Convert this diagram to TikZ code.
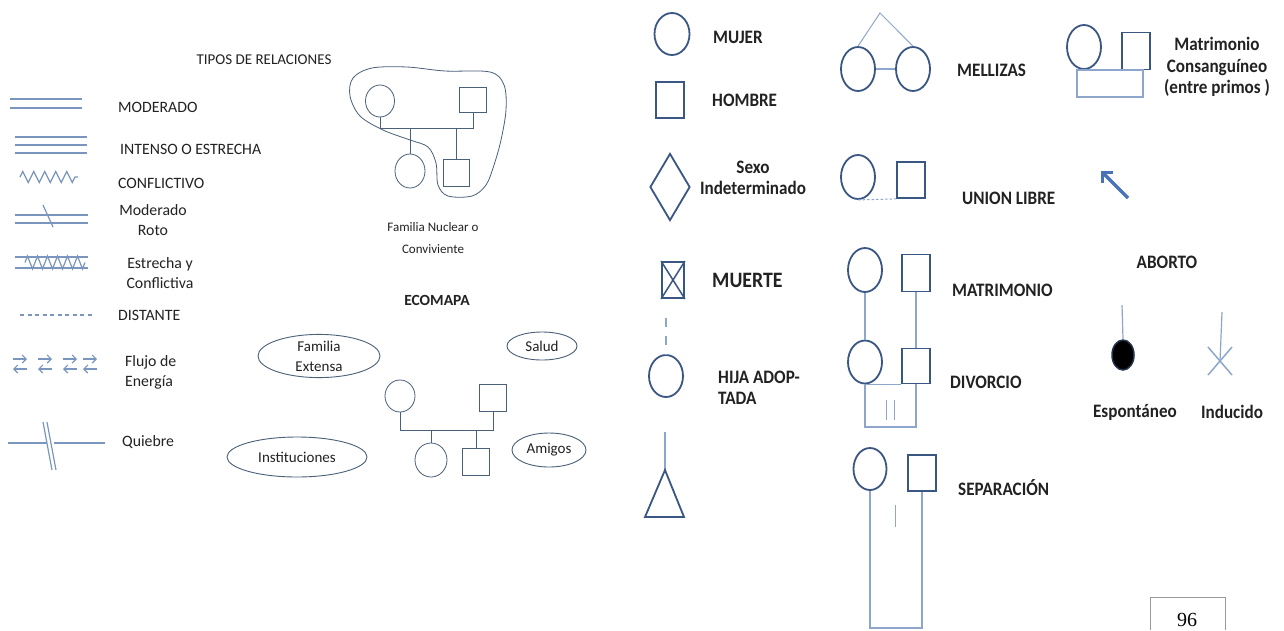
\documentclass[tikz,border=0pt]{standalone}
\usepackage{fontspec}
\setmainfont{Carlito}
\newfontfamily\rfont{Carlito}[FakeStretch=0.9]
\newfontfamily\serf{Liberation Serif}
\usetikzlibrary{shapes.geometric,arrows.meta,decorations.pathmorphing}
\definecolor{leg}{HTML}{7A96BE}
\definecolor{fam}{HTML}{4A5F78}
\definecolor{shp}{HTML}{3A5683}
\definecolor{lnk}{HTML}{8EA6CC}
\definecolor{txt}{HTML}{222222}
\definecolor{arr}{HTML}{4A72B8}
\tikzset{
  legline/.style={draw=leg, line width=1.2pt},
  ltext/.style={text=txt, inner sep=0pt, font=\fontsize{15.8}{20}\selectfont},
  rtext/.style={text=txt, inner sep=0pt, font=\rfont\bfseries\fontsize{19}{21.5}\selectfont},
  famc/.style={draw=fam, line width=0.8pt, ellipse, inner sep=0pt},
  fams/.style={draw=fam, line width=0.8pt, rectangle, inner sep=0pt},
  famline/.style={draw=fam, line width=0.8pt},
  oval/.style={draw=fam, line width=0.9pt, ellipse, inner sep=0pt, align=center, text=txt, font=\fontsize{15}{20}\selectfont},
  rc/.style={draw=shp, line width=1.8pt, ellipse, inner sep=0pt, minimum width=34pt, minimum height=44pt},
  rs/.style={draw=shp, line width=1.8pt, rectangle, inner sep=0pt, minimum width=28pt, minimum height=36pt},
  rline/.style={draw=lnk, line width=1.2pt},
}
\begin{document}
\begin{tikzpicture}[x=1pt,y=-1pt]
\useasboundingbox (0,0) rectangle (1284,630);
\fill[white] (0,0) rectangle (1284,630);

% ---------------- legend of relations ----------------
\draw[legline] (10,99) -- (82,99);
\draw[legline] (10,108) -- (82,108);
\node[ltext, anchor=west] (tmod) at (118,107) {MODERADO};

\draw[legline] (15,137) -- (87,137);
\draw[legline] (15,145) -- (87,145);
\draw[legline] (15,153) -- (87,153);
\node[ltext, anchor=west] (tint) at (120,149) {INTENSO O ESTRECHA};

\draw[legline, decorate, decoration={zigzag, segment length=11pt, amplitude=5.5pt}] (20,177) -- (78,177);
\node[ltext, anchor=west] (tcon) at (118,183) {CONFLICTIVO};

\draw[legline] (15,215) -- (88,215);
\draw[legline] (15,223) -- (88,223);
\draw[legline] (43,205) -- (53,227);
\node[ltext, align=center] (troto) at (153,220) {Moderado\\Roto};

\draw[legline] (15,257) -- (88,257);
\draw[legline] (15,268) -- (88,268);
\draw[legline, decorate, decoration={zigzag, segment length=10pt, amplitude=6.5pt}] (25,262.5) -- (85,262.5);
\node[ltext, align=center] (testc) at (160,273) {Estrecha y\\Conflictiva};

\draw[legline, dashed, dash pattern=on 4pt off 3.5pt] (20,315) -- (92,315);
\node[ltext, anchor=west] (tdist) at (118,315) {DISTANTE};

\foreach \x in {13,38,63,83}{
  \draw[legline, line width=1.1pt, -{Straight Barb[length=4pt,width=8pt]}] (\x,359) -- (\x+14,359);
  \draw[legline, line width=1.1pt, {Straight Barb[length=4pt,width=8pt]}-] (\x,369) -- (\x+14,369);
}
\node[ltext, align=left, anchor=west] (tflu) at (125,372) {Flujo de\\Energía};

\draw[legline] (8,443) -- (47,443);
\draw[legline] (54,443) -- (105,443);
\draw[legline] (43,422) -- (52,470);
\draw[legline] (47,422) -- (56,470);
\node[ltext, anchor=west] (tqui) at (122,442) {Quiebre};

% ---------------- nuclear family ----------------
\node[ltext, font=\fontsize{15}{20}\selectfont] (ttip) at (264,60) {TIPOS DE RELACIONES};
\draw[famline] plot[smooth cycle, tension=0.55] coordinates {(353,78) (372,68) (407,67) (445,71) (490,72) (504,85) (506,110) (501,140) (494,165) (486,185) (472,196) (448,196) (438,185) (436,163) (428,147) (410,140) (383,130) (360,116) (350,96)};
\node[famc, minimum width=29pt, minimum height=32pt] (nm) at (380,101) {};
\node[fams, minimum width=27pt, minimum height=25pt] (nf) at (473,100) {};
\node[famc, minimum width=30pt, minimum height=34pt] (nd) at (410,171) {};
\node[fams, minimum width=26pt, minimum height=27pt] (ns) at (456,173) {};
\coordinate (nbar) at (0,128);
\draw[famline] (nm.south) |- (nf.south |- nbar) -- (nf.south);
\draw[famline] (nd.north |- nbar) -- (nd.north);
\draw[famline] (ns.north |- nbar) -- (ns.north);
\node[text=txt, inner sep=0pt, align=center, font=\fontsize{13}{22}\selectfont] (tnuc) at (433,238) {Familia Nuclear o\\Conviviente};

% ---------------- ecomapa ----------------
\node[text=txt, inner sep=0pt, font=\bfseries\fontsize{15.5}{18}\selectfont] (teco) at (437,300) {ECOMAPA};
\node[oval, minimum width=122pt, minimum height=42pt] (fe) at (319,356) {Familia\\Extensa};
\node[oval, minimum width=70pt, minimum height=28pt] (sa) at (542,346) {Salud};
\node[oval, minimum width=140pt, minimum height=40pt] (ins) at (297,457) {Instituciones};
\node[oval, minimum width=74pt, minimum height=34pt] (am) at (549,450) {Amigos};
\node[famc, minimum width=30pt, minimum height=32pt] (em) at (400,396) {};
\node[fams, minimum width=27pt, minimum height=27pt] (ef) at (493,398) {};
\node[famc, minimum width=32pt, minimum height=34pt] (ed) at (431,460) {};
\node[fams, minimum width=27pt, minimum height=27pt] (es) at (476,462) {};
\coordinate (ebar) at (0,430);
\draw[famline] (em.south) |- (ef.south |- ebar) -- (ef.south);
\draw[famline] (ed.north |- ebar) -- (ed.north);
\draw[famline] (es.north |- ebar) -- (es.north);

% ---------------- genogram symbols column 1 ----------------
\node[rc, minimum width=35pt, minimum height=42pt] (mu) at (672,34) {};
\node[rtext, anchor=west] (tmu) at (713,37) {MUJER};
\node[rs] (ho) at (670,100) {};
\node[rtext, anchor=west] (tho) at (712,100) {HOMBRE};
\node[diamond, draw=shp, line width=1.8pt, inner sep=0pt, minimum width=40pt, minimum height=67pt] (sx) at (670,187) {};
\node[rtext, align=center] (tsx) at (753,178) {Sexo\\Indeterminado};
\node[rs, minimum width=22pt, minimum height=36pt] (mt) at (673,280) {};
\draw[draw=shp, line width=1.5pt] (mt.north west) -- (mt.south east);
\draw[draw=shp, line width=1.5pt] (mt.north east) -- (mt.south west);
\node[rtext, anchor=west, font=\rfont\bfseries\fontsize{22}{24}\selectfont] (tmt) at (712,280) {MUERTE};
\node[rc, minimum height=42pt] (ad) at (666,376) {};
\coordinate (adtop) at (666,318);
\draw[rline, dash pattern=on 9pt off 9pt] (adtop) -- (ad.north);
\node[rtext, anchor=west, align=left] (tad) at (718,388) {HIJA ADOP-\\TADA};
\coordinate (trtop) at (665,432);
\coordinate (trap) at (665,470);
\coordinate (trl) at (645,517);
\coordinate (trr) at (684,517);
\draw[rline] (trtop) -- (trap);
\draw[draw=shp, line width=1.8pt, line join=miter] (trap) -- (trr) -- (trl) -- cycle;

% ---------------- column 2 ----------------
\node[rc] (mc1) at (858,69) {};
\node[rc] (mc2) at (913,69) {};
\coordinate (mapex) at (880,13);
\draw[rline, line width=1pt] (mc1.north) -- (mapex) -- (mc2.north);
\draw[rline] (mc1.east) -- (mc2.west);
\node[rtext, anchor=west] (tmel) at (957,70) {MELLIZAS};

\node[rc] (ulc) at (858,177) {};
\node[rs] (uls) at (911,180) {};
\draw[rline, line width=1pt, dashed, dash pattern=on 2.5pt off 2pt] (ulc.south) -- (uls.south west);
\node[rtext, anchor=west] (tul) at (962,198) {UNION LIBRE};

\node[rc] (matc) at (865,270) {};
\node[rs, minimum height=37pt] (mats) at (916,273) {};
\node[rtext, anchor=west] (tmat) at (952,290) {MATRIMONIO};
\node[rc, minimum height=43pt] (divc) at (865,362) {};
\node[rs, minimum height=35pt] (divs) at (916,366) {};
\draw[rline] (matc.south) -- (divc.north);
\draw[rline] (mats.south) -- (divs.north);
\coordinate (divbar) at (0,427);
\draw[rline] (divc.south) -- (divs.south west);
\draw[rline] (divc.south) |- (divs.south |- divbar) -- (divs.south);
\draw[rline, line width=1pt] (886,400) -- (886,420);
\draw[rline, line width=1pt] (894,400) -- (894,420);
\node[rtext, anchor=west] (tdiv) at (950,382) {DIVORCIO};

\node[rc, minimum width=33pt, minimum height=42pt] (sepc) at (870,469) {};
\node[rs, minimum width=28pt, minimum height=36pt] (seps) at (922,473) {};
\coordinate (sepbar) at (0,628);
\draw[rline] (sepc.south) |- (seps.south |- sepbar) -- (seps.south);
\draw[rline, line width=1pt] (895,505) -- (895,527);
\node[rtext, anchor=west] (tsep) at (958,488) {SEPARACIÓN};

% ---------------- column 3 ----------------
\node[rc] (cc) at (1084,47) {};
\node[rs, minimum height=37pt] (cs) at (1136,51) {};
\coordinate (cq1) at (1077,70);
\coordinate (cq2) at (1143,97);
\draw[rline] (cq1) rectangle (cq2);
\node[rtext, align=center] (tcon2) at (1217,67) {Matrimonio\\Consanguíneo\\(entre primos )};

\coordinate (arS) at (1128,198);
\coordinate (arE) at (1101,171);
\draw[draw=arr, line width=3.2pt, -{Straight Barb[length=7pt,width=14pt,line width=3.2pt]}] (arS) -- (arE);

\node[rtext] (tab) at (1167,262) {ABORTO};
\coordinate (ab1t) at (1122,305);
\node[ellipse, draw=shp!60!black, fill=black, line width=1.5pt, inner sep=0pt, minimum width=22pt, minimum height=30pt] (ab1) at (1123,355) {};
\draw[rline] (ab1t) -- (ab1.north);
\coordinate (ab2t) at (1222,312);
\coordinate (abx) at (1220,361);
\coordinate (abx1) at (1208,347);
\coordinate (abx2) at (1232,375);
\coordinate (abx3) at (1232,347);
\coordinate (abx4) at (1208,375);
\draw[rline] (ab2t) -- (abx);
\draw[rline, line width=1.5pt] (abx1) -- (abx2);
\draw[rline, line width=1.5pt] (abx3) -- (abx4);
\node[rtext] (tesp) at (1135,412) {Espontáneo};
\node[rtext] (tind) at (1232,412) {Inducido};

% ---------------- page number ----------------
\coordinate (pb1) at (1150,630);
\coordinate (pb2) at (1150,597);
\coordinate (pb3) at (1225,597);
\coordinate (pb4) at (1225,630);
\draw[gray!80, line width=0.8pt] (pb1) -- (pb2) -- (pb3) -- (pb4);
\node[text=black, inner sep=0pt, font=\serf\fontsize{20}{22}\selectfont] (pn) at (1187,620) {96};
\end{tikzpicture}
\end{document}
